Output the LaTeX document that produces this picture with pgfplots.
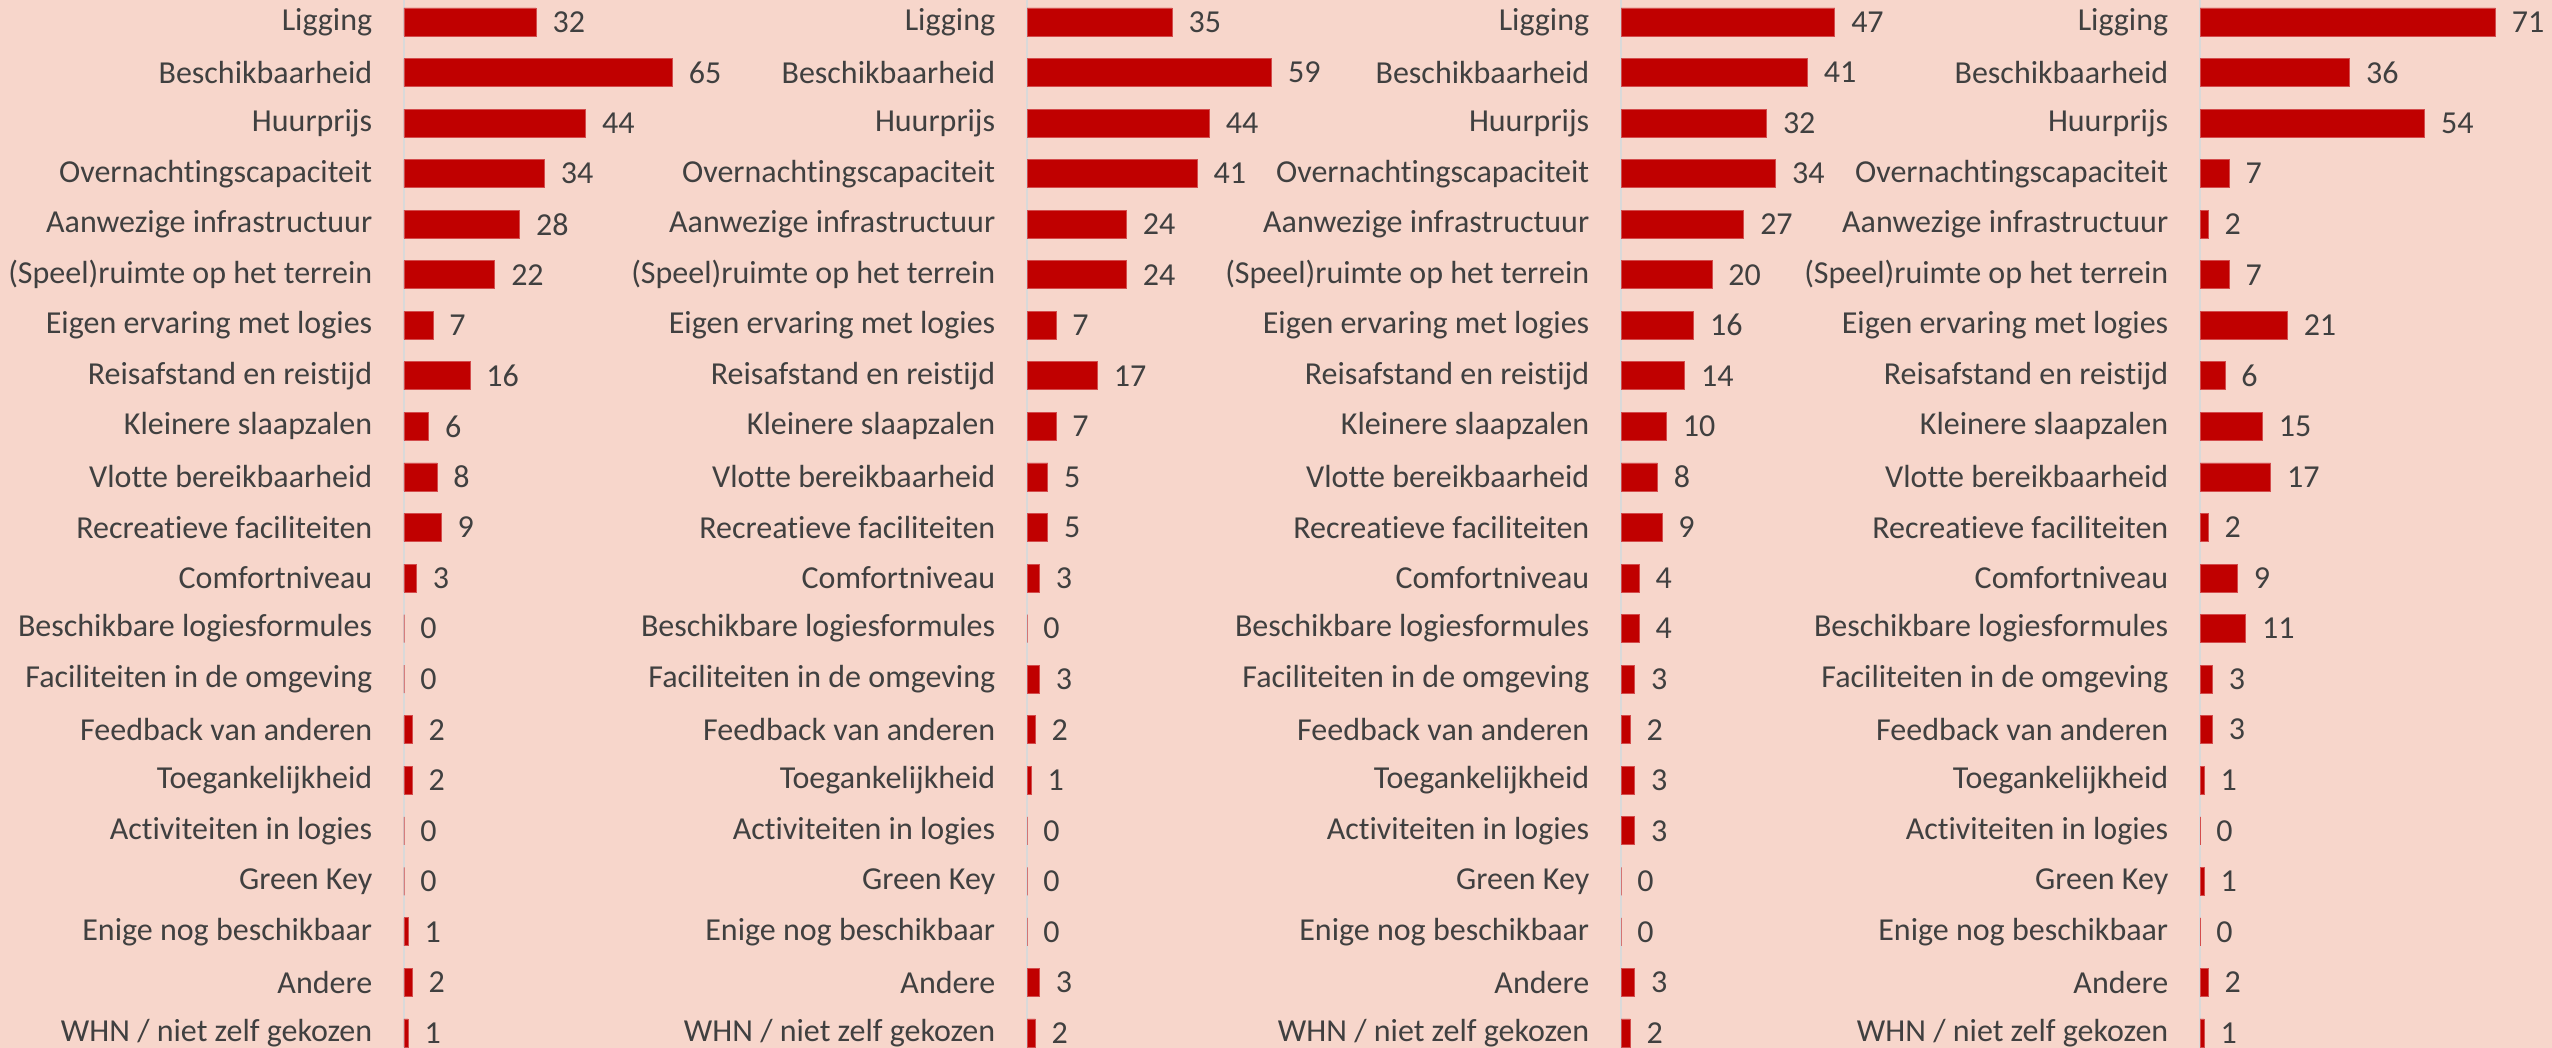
\documentclass[border=0pt]{standalone}
\usepackage{pgfplots}
\pgfplotsset{compat=1.18}
\usepackage{fontspec}
\setmainfont{Carlito}[RawFeature={-liga;-clig;-calt;-dlig}]
\definecolor{bg}{HTML}{F7D6CB}
\definecolor{barred}{HTML}{C00000}
\definecolor{txt}{HTML}{404040}
\definecolor{axgray}{HTML}{D9D9D9}

% columns: y (negative row index), p1..p4
\pgfplotstableread{
y p1 p2 p3 p4
0 32 35 47 71
-1 65 59 41 36
-2 44 44 32 54
-3 34 41 34 7
-4 28 24 27 2
-5 22 24 20 7
-6 7 7 16 21
-7 16 17 14 6
-8 6 7 10 15
-9 8 5 8 17
-10 9 5 9 2
-11 3 3 4 9
-12 0 0 4 11
-13 0 3 3 3
-14 2 2 2 3
-15 2 1 3 1
-16 0 0 3 0
-17 0 0 0 1
-18 1 0 0 0
-19 2 3 3 2
-20 1 2 2 1
}\datatable

\pgfplotsset{
  panel/.style={
    xbar,
    anchor=north west,
    y=12.6375pt,
    xmin=0, xmax=80,
    ymin=-20.5, ymax=0.5,
    enlargelimits=false,
    clip=false,
    axis x line=none,
    axis y line*=left,
    y axis line style={draw=axgray, line width=0.6pt},
    ytick={0,-1,...,-20},
    yticklabels={Ligging,Beschikbaarheid,Huurprijs,Overnachtingscapaciteit,Aanwezige infrastructuur,(Speel)ruimte op het terrein,Eigen ervaring met logies,Reisafstand en reistijd,Kleinere slaapzalen,Vlotte bereikbaarheid,Recreatieve faciliteiten,Comfortniveau,Beschikbare logiesformules,{Faciliteiten in de omgeving\hspace{0.3em}},Feedback van anderen,Toegankelijkheid,Activiteiten in logies,Green Key,Enige nog beschikbaar,Andere,WHN / niet zelf gekozen},
    major tick length=0pt,
    ytick style={draw=none},
    yticklabel style={font=\fontsize{8}{9.6}\selectfont, text=txt, anchor=east, inner sep=0pt, xshift=-7.75pt},
    /pgf/number format/assume math mode=true,
    bar width=7pt,
    nodes near coords,
    every node near coord/.append style={font=\fontsize{8}{9.6}\selectfont, text=txt, anchor=west, inner sep=0pt, xshift=4pt},
  },
  redbars/.style={fill=barred, draw=barred!70!white, line width=0.2pt},
}

\begin{document}
\begin{tikzpicture}
\useasboundingbox (0,0) rectangle (638pt,-262pt);
\fill[bg] (0,0) rectangle (638pt,-262pt);
\clip (0,0) rectangle (638pt,-262pt);

\begin{axis}[panel, at={(101pt,0.82pt)}, x=1.0325pt]
\addplot[redbars] table[x=p1, y=y] {\datatable};
\end{axis}

\begin{axis}[panel, at={(256.75pt,0.82pt)}, x=1.0375pt]
\addplot[redbars] table[x=p2, y=y] {\datatable};
\end{axis}

\begin{axis}[panel, at={(405.25pt,0.82pt)}, x=1.1375pt]
\addplot[redbars] table[x=p3, y=y] {\datatable};
\end{axis}

\begin{axis}[panel, at={(550pt,0.82pt)}, x=1.04pt]
\addplot[redbars] table[x=p4, y=y] {\datatable};
\end{axis}

\end{tikzpicture}
\end{document}
